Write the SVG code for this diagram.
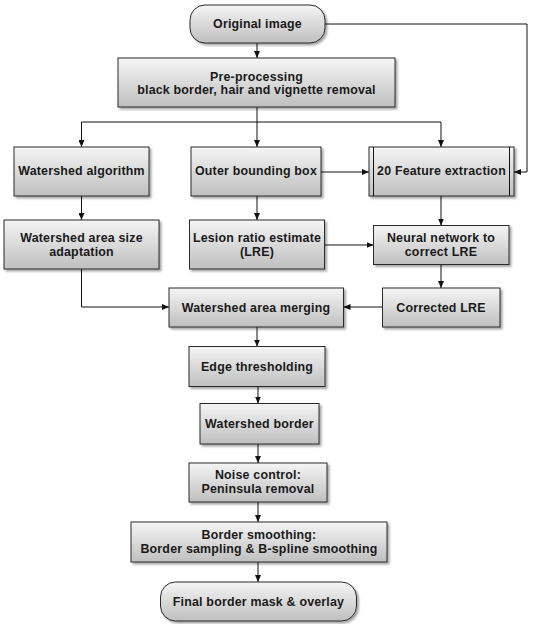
<svg xmlns="http://www.w3.org/2000/svg" width="533" height="624" viewBox="0 0 533 624">
<defs>
<linearGradient id="g" x1="0" y1="0" x2="0" y2="1">
<stop offset="0" stop-color="#f5f5f5"/>
<stop offset="1" stop-color="#bfbfbf"/>
</linearGradient>
<filter id="sh" x="-10%" y="-10%" width="130%" height="140%">
<feDropShadow dx="2" dy="2" stdDeviation="1.2" flood-color="#000" flood-opacity="0.35"/>
</filter>
<marker id="ar" markerUnits="userSpaceOnUse" markerWidth="7" markerHeight="6" refX="7" refY="3" orient="auto">
<path d="M0,0 L7,3 L0,6 z" fill="#111"/>
</marker>
</defs>
<style>
.b{fill:url(#g);stroke:#2a2a2a;stroke-width:1;filter:url(#sh)}
.t{font-family:"Liberation Sans",Arial,sans-serif;font-size:12.4px;font-weight:bold;fill:#1a1a1a;text-anchor:middle;letter-spacing:0.2px}
.c{fill:none;stroke:#111;stroke-width:1}
.a{marker-end:url(#ar)}
</style>
<rect width="533" height="624" fill="#fff"/>
<g id="connectors">
<path class="c a" d="M257,43 V58"/>
<path class="c a" d="M257,107 V147"/>
<path class="c" d="M81.5,122 H441"/>
<path class="c a" d="M81.5,122 V147"/>
<path class="c a" d="M441,122 V147"/>
<path class="c a" d="M325,24 H527 V172 H514"/>
<path class="c a" d="M321,172 H369"/>
<path class="c a" d="M81.5,196 V220"/>
<path class="c a" d="M257,196 V220"/>
<path class="c a" d="M441,196 V225.5"/>
<path class="c a" d="M324.5,245 H373.5"/>
<path class="c a" d="M81.5,269 V307 H169"/>
<path class="c a" d="M441,265 V288"/>
<path class="c a" d="M382.5,307 H343.5"/>
<path class="c a" d="M257,327 V346.5"/>
<path class="c a" d="M258,386.5 V403.5"/>
<path class="c a" d="M258,444 V463"/>
<path class="c a" d="M258,502 V522"/>
<path class="c a" d="M258,562 V582"/>
</g>
<g id="orig"><rect class="b" x="190" y="5" width="135" height="38" rx="15"/><text class="t" x="257.5" y="28">Original image</text></g>
<g id="pre"><rect class="b" x="118" y="58" width="277" height="49"/><text class="t" x="256.5" y="80.5">Pre-processing</text><text class="t" x="256.5" y="94">black border, hair and vignette removal</text></g>
<g id="ws"><rect class="b" x="14" y="147" width="135" height="49"/><text class="t" x="81.5" y="175">Watershed algorithm</text></g>
<g id="obb"><rect class="b" x="191" y="147" width="130" height="49"/><text class="t" x="256" y="175">Outer bounding box</text></g>
<g id="fe"><rect class="b" x="369" y="147" width="145" height="49"/><path class="c" d="M373.5,147 V196 M509.5,147 V196" stroke="#2a2a2a"/><text class="t" x="441.5" y="175">20 Feature extraction</text></g>
<g id="wsa"><rect class="b" x="4" y="220" width="155" height="49"/><text class="t" x="81.5" y="242">Watershed area size</text><text class="t" x="81.5" y="256">adaptation</text></g>
<g id="lre"><rect class="b" x="189.5" y="220" width="135" height="49"/><text class="t" x="257" y="242">Lesion ratio estimate</text><text class="t" x="257" y="256">(LRE)</text></g>
<g id="nn"><rect class="b" x="373.5" y="225.5" width="135.5" height="39"/><text class="t" x="441" y="242">Neural network to</text><text class="t" x="441" y="256">correct LRE</text></g>
<g id="wam"><rect class="b" x="169" y="288" width="174.5" height="39"/><text class="t" x="256" y="311.5">Watershed area merging</text></g>
<g id="clre"><rect class="b" x="382.5" y="288" width="117.5" height="39"/><text class="t" x="441" y="311.5">Corrected LRE</text></g>
<g id="edge"><rect class="b" x="189" y="346.5" width="136" height="40"/><text class="t" x="257" y="370.5">Edge thresholding</text></g>
<g id="wb"><rect class="b" x="200" y="403.5" width="119" height="40.5"/><text class="t" x="259.5" y="428">Watershed border</text></g>
<g id="noise"><rect class="b" x="189" y="463" width="138" height="39"/><text class="t" x="258" y="479">Noise control:</text><text class="t" x="258" y="493">Peninsula removal</text></g>
<g id="bs"><rect class="b" x="131" y="522" width="256" height="40"/><text class="t" x="259" y="539">Border smoothing:</text><text class="t" x="259" y="553">Border sampling &amp; B-spline smoothing</text></g>
<g id="final"><rect class="b" x="160.5" y="582" width="196" height="39" rx="15"/><text class="t" x="258.5" y="606">Final border mask &amp; overlay</text></g>
</svg>
